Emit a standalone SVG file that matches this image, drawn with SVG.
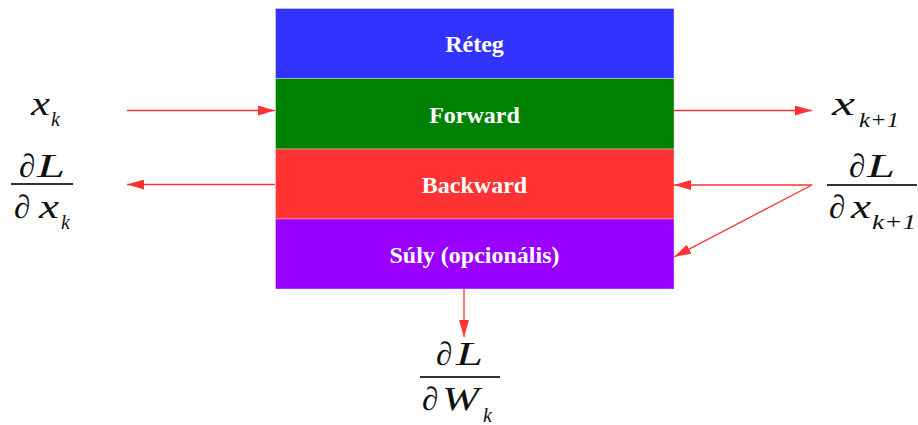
<svg xmlns="http://www.w3.org/2000/svg" width="918" height="425" viewBox="0 0 918 425">
  <defs>
    <marker id="arrow" viewBox="0 0 17 10" refX="17" refY="5" markerWidth="17" markerHeight="10" markerUnits="userSpaceOnUse" orient="auto">
      <path d="M0,0 L17,5 L0,10 Z" fill="#ff3333"/>
    </marker>
  </defs>
  <style>
    .band { stroke: #ffffff; stroke-opacity: 0.35; stroke-width: 1; }
    .lbl { font-family: "Liberation Serif", "Times New Roman", serif; font-weight: bold; font-size: 24px; fill: #ffffff; text-anchor: middle; }
    .math { font-family: "Liberation Serif", "Times New Roman", serif; font-style: italic; font-size: 33px; fill: #111111; }
    .sub { font-family: "Liberation Serif", "Times New Roman", serif; font-style: italic; font-size: 20px; fill: #111111; }
    .bar { stroke: #333333; stroke-width: 2; }
    .conn { stroke: #ff3333; stroke-width: 1.3; fill: none; marker-end: url(#arrow); }
  </style>
  <rect width="918" height="425" fill="#ffffff"/>

  <!-- layer block -->
  <g id="reteg">
    <rect class="band" x="275.5" y="8.5" width="398.5" height="70" fill="#3333ff"/>
    <text class="lbl" x="474.5" y="52">Réteg</text>
  </g>
  <g id="forward">
    <rect class="band" x="275.5" y="78.5" width="398.5" height="70.5" fill="#008000"/>
    <text class="lbl" x="474.5" y="122.5">Forward</text>
  </g>
  <g id="backward">
    <rect class="band" x="275.5" y="149" width="398.5" height="70" fill="#ff3333"/>
    <text class="lbl" x="474.5" y="192.5">Backward</text>
  </g>
  <g id="suly">
    <rect class="band" x="275.5" y="219" width="398.5" height="70" fill="#9900ff"/>
    <text class="lbl" x="474.5" y="263">Súly (opcionális)</text>
  </g>

  <!-- input x_k -->
  <g id="x-in">
    <text class="math" x="31" y="115" textLength="19" lengthAdjust="spacingAndGlyphs">x</text>
    <text class="sub" x="51" y="126">k</text>
  </g>
  <!-- gradient w.r.t. input -->
  <g id="grad-x-in">
    <text class="math" x="19" y="177">∂</text>
    <text class="math" x="37" y="177" textLength="28" lengthAdjust="spacingAndGlyphs">L</text>
    <line class="bar" x1="11" y1="184" x2="73" y2="184"/>
    <text class="math" x="14" y="218">∂</text>
    <text class="math" x="39" y="218" textLength="20" lengthAdjust="spacingAndGlyphs">x</text>
    <text class="sub" x="61" y="229">k</text>
  </g>
  <!-- output x_{k+1} -->
  <g id="x-out">
    <text class="math" x="832" y="115" textLength="23" lengthAdjust="spacingAndGlyphs">x</text>
    <text class="sub" x="859" y="127" textLength="40" lengthAdjust="spacingAndGlyphs">k+1</text>
  </g>
  <!-- gradient w.r.t. output -->
  <g id="grad-x-out">
    <text class="math" x="849" y="177">∂</text>
    <text class="math" x="867" y="177" textLength="28" lengthAdjust="spacingAndGlyphs">L</text>
    <line class="bar" x1="827" y1="185" x2="917" y2="185"/>
    <text class="math" x="829" y="218">∂</text>
    <text class="math" x="851" y="218" textLength="20" lengthAdjust="spacingAndGlyphs">x</text>
    <text class="sub" x="872" y="229" textLength="44" lengthAdjust="spacingAndGlyphs">k+1</text>
  </g>
  <!-- gradient w.r.t. weights -->
  <g id="grad-w">
    <text class="math" x="436" y="365">∂</text>
    <text class="math" x="456" y="365" textLength="27" lengthAdjust="spacingAndGlyphs">L</text>
    <line class="bar" x1="420" y1="377" x2="500" y2="377"/>
    <text class="math" x="422" y="410">∂</text>
    <text class="math" x="442" y="410" textLength="37" lengthAdjust="spacingAndGlyphs">W</text>
    <text class="sub" x="483" y="422">k</text>
  </g>

  <!-- connectors -->
  <g id="connectors">
    <line class="conn" x1="127" y1="110.5" x2="275" y2="110.5"/>
    <line class="conn" x1="674" y1="110.5" x2="812" y2="110.5"/>
    <line class="conn" x1="275" y1="184.5" x2="127" y2="184.5"/>
    <line class="conn" x1="812" y1="185" x2="674" y2="185"/>
    <line class="conn" x1="812" y1="185" x2="674" y2="257"/>
    <line class="conn" x1="464" y1="289" x2="464" y2="337"/>
  </g>
</svg>
